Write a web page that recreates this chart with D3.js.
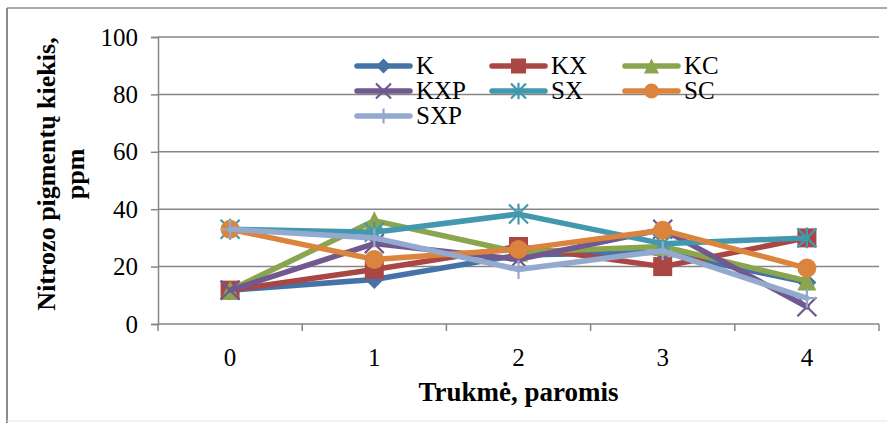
<!DOCTYPE html>
<html>
<head>
<meta charset="utf-8">
<script src="https://cdn.jsdelivr.net/npm/d3@7"></script>
<style>
  html, body { margin: 0; padding: 0; background: #fff; }
  svg { display: block; }
  text { font-family: "Liberation Serif", "Times New Roman", serif; fill: #000; }
</style>
</head>
<body>
<svg id="chart" width="887" height="423"></svg>
<script>
// Days of treatment
const days = ["0", "1", "2", "3", "4"];
const yTicks = [0, 20, 40, 60, 80, 100];

// Nitroso pigment content, ppm, per sample group
const seriesNames = ["K", "KX", "KC", "KXP", "SX", "SC", "SXP"];
const K   = [11.8, 15.5, 24.0, 25.0, 14.5];
const KX  = [11.8, 19.0, 27.0, 20.0, 30.0];
const KC  = [11.8, 36.0, 25.0, 27.0, 15.0];
const KXP = [11.8, 28.0, 22.5, 33.0, 6.0];
const SX  = [33.0, 32.0, 38.3, 28.0, 30.0];
const SC  = [33.0, 22.5, 26.0, 32.7, 19.5];
const SXP = [33.0, 30.0, 19.0, 25.5, 9.0];

const seriesValues = [K, KX, KC, KXP, SX, SC, SXP];
const seriesColors = ["#4572A7", "#AA4643", "#89A54E", "#71588F", "#4198AF", "#DB843D", "#93A9CF"];
const seriesMarkers = ["diamond", "square", "triangle", "x", "star", "circle", "plus"];

const serif = '"Liberation Serif", "Times New Roman", serif';
const svg = d3.select("#chart");

// chart frame
svg.append("line").attr("x1", 7).attr("x2", 887).attr("y1", 8).attr("y2", 8)
  .attr("stroke", "#8c8c8c").attr("stroke-width", 1.5);
svg.append("line").attr("x1", 7).attr("x2", 7).attr("y1", 8).attr("y2", 423)
  .attr("stroke", "#8c8c8c").attr("stroke-width", 2);
svg.append("line").attr("x1", 7).attr("x2", 887).attr("y1", 421).attr("y2", 421)
  .attr("stroke", "#e4e4e4").attr("stroke-width", 1);

const plot = { left: 158, right: 879, top: 37, bottom: 324 };

const x = d3.scaleBand().domain(days).range([plot.left, plot.right]).padding(0);
const y = d3.scaleLinear().domain([0, 100]).range([plot.bottom, plot.top]);

const axisColor = "#868686";

// horizontal gridlines
svg.append("g")
  .selectAll("line")
  .data(yTicks.filter(d => d > 0))
  .join("line")
  .attr("x1", plot.left).attr("x2", plot.right)
  .attr("y1", d => y(d)).attr("y2", d => y(d))
  .attr("stroke", axisColor).attr("stroke-width", 1.5);

// y axis
const yAxis = svg.append("g")
  .attr("transform", `translate(${plot.left},0)`)
  .call(d3.axisLeft(y).tickValues(yTicks).tickSize(7).tickPadding(13))
  .attr("font-family", serif);
yAxis.select(".domain").attr("stroke", axisColor).attr("stroke-width", 1.5);
yAxis.selectAll(".tick line").attr("stroke", axisColor).attr("stroke-width", 1.5);
yAxis.selectAll(".tick text")
  .attr("font-family", serif)
  .attr("font-size", 25).attr("fill", "#000");

// x axis with ticks at category boundaries
const xAxisG = svg.append("g").attr("transform", `translate(0,${plot.bottom})`);
xAxisG.append("line")
  .attr("x1", plot.left).attr("x2", plot.right).attr("y1", 0).attr("y2", 0)
  .attr("stroke", axisColor).attr("stroke-width", 1.5);
const boundaries = days.map(d => x(d)).concat([x(days[days.length - 1]) + x.bandwidth()]);
xAxisG.selectAll("line.tk")
  .data(boundaries)
  .join("line").attr("class", "tk")
  .attr("x1", d => d).attr("x2", d => d).attr("y1", 0).attr("y2", 7)
  .attr("stroke", axisColor).attr("stroke-width", 1.5);
xAxisG.selectAll("text")
  .data(days)
  .join("text")
  .attr("x", d => x(d) + x.bandwidth() / 2)
  .attr("y", 42)
  .attr("text-anchor", "middle")
  .attr("font-family", serif)
  .attr("font-size", 25)
  .text(d => d);

// axis titles
svg.append("text")
  .attr("x", (plot.left + plot.right) / 2).attr("y", 401)
  .attr("text-anchor", "middle")
  .attr("font-family", serif)
  .attr("font-size", 27).attr("font-weight", "bold")
  .text("Trukmė, paromis");

const yTitle = svg.append("text")
  .attr("transform", "translate(0,174) rotate(-90)")
  .attr("text-anchor", "middle")
  .attr("font-family", serif)
  .attr("font-size", 26).attr("font-weight", "bold");
yTitle.append("tspan").attr("x", 0).attr("y", 55).text("Nitrozo pigmentų kiekis,");
yTitle.append("tspan").attr("x", 0).attr("y", 84).text("ppm");

// marker drawing
function drawMarker(g, type, color, s) {
  const h = s / 2;
  if (type === "diamond") {
    g.append("path").attr("d", `M0,${-h}L${h},0L0,${h}L${-h},0Z`).attr("fill", color);
  } else if (type === "square") {
    g.append("rect").attr("x", -h).attr("y", -h).attr("width", s).attr("height", s).attr("fill", color);
  } else if (type === "triangle") {
    g.append("path").attr("d", `M0,${-h}L${h},${h}L${-h},${h}Z`).attr("fill", color);
  } else if (type === "circle") {
    g.append("circle").attr("r", h).attr("fill", color);
  } else if (type === "x") {
    g.append("path").attr("d", `M${-h},${-h}L${h},${h}M${-h},${h}L${h},${-h}`)
      .attr("stroke", color).attr("stroke-width", 2.2).attr("fill", "none");
  } else if (type === "star") {
    g.append("path").attr("d", `M${-h},${-h}L${h},${h}M${-h},${h}L${h},${-h}M0,${-h * 1.1}L0,${h * 1.1}`)
      .attr("stroke", color).attr("stroke-width", 2.2).attr("fill", "none");
  } else if (type === "plus") {
    g.append("path").attr("d", `M${-h},0L${h},0M0,${-h}L0,${h}`)
      .attr("stroke", color).attr("stroke-width", 2.2).attr("fill", "none");
  }
}

const line = d3.line()
  .x((d, i) => x(days[i]) + x.bandwidth() / 2)
  .y(d => y(d));

seriesNames.forEach((name, si) => {
  const g = svg.append("g");
  const color = seriesColors[si];
  g.append("path")
    .datum(seriesValues[si])
    .attr("d", line)
    .attr("fill", "none")
    .attr("stroke", color)
    .attr("stroke-width", 5.5)
    .attr("stroke-linejoin", "round")
    .attr("stroke-linecap", "round");
  seriesValues[si].forEach((v, i) => {
    const mg = g.append("g")
      .attr("transform", `translate(${x(days[i]) + x.bandwidth() / 2},${y(v)})`);
    drawMarker(mg, seriesMarkers[si], color, 19);
  });
});

// legend
const legendCols = [357, 492, 625];
const legendRows = [66, 91, 116];
seriesNames.forEach((name, si) => {
  const lx = legendCols[si % 3];
  const ly = legendRows[Math.floor(si / 3)];
  const g = svg.append("g");
  g.append("line")
    .attr("x1", lx).attr("x2", lx + 53).attr("y1", ly).attr("y2", ly)
    .attr("stroke", seriesColors[si]).attr("stroke-width", 5.5)
    .attr("stroke-linecap", "round");
  const mg = g.append("g").attr("transform", `translate(${lx + 26.5},${ly})`);
  drawMarker(mg, seriesMarkers[si], seriesColors[si], 15);
  g.append("text")
    .attr("x", lx + 59).attr("y", ly + 8)
    .attr("font-family", serif)
    .attr("font-size", 25)
    .text(name);
});
</script>
</body>
</html>
